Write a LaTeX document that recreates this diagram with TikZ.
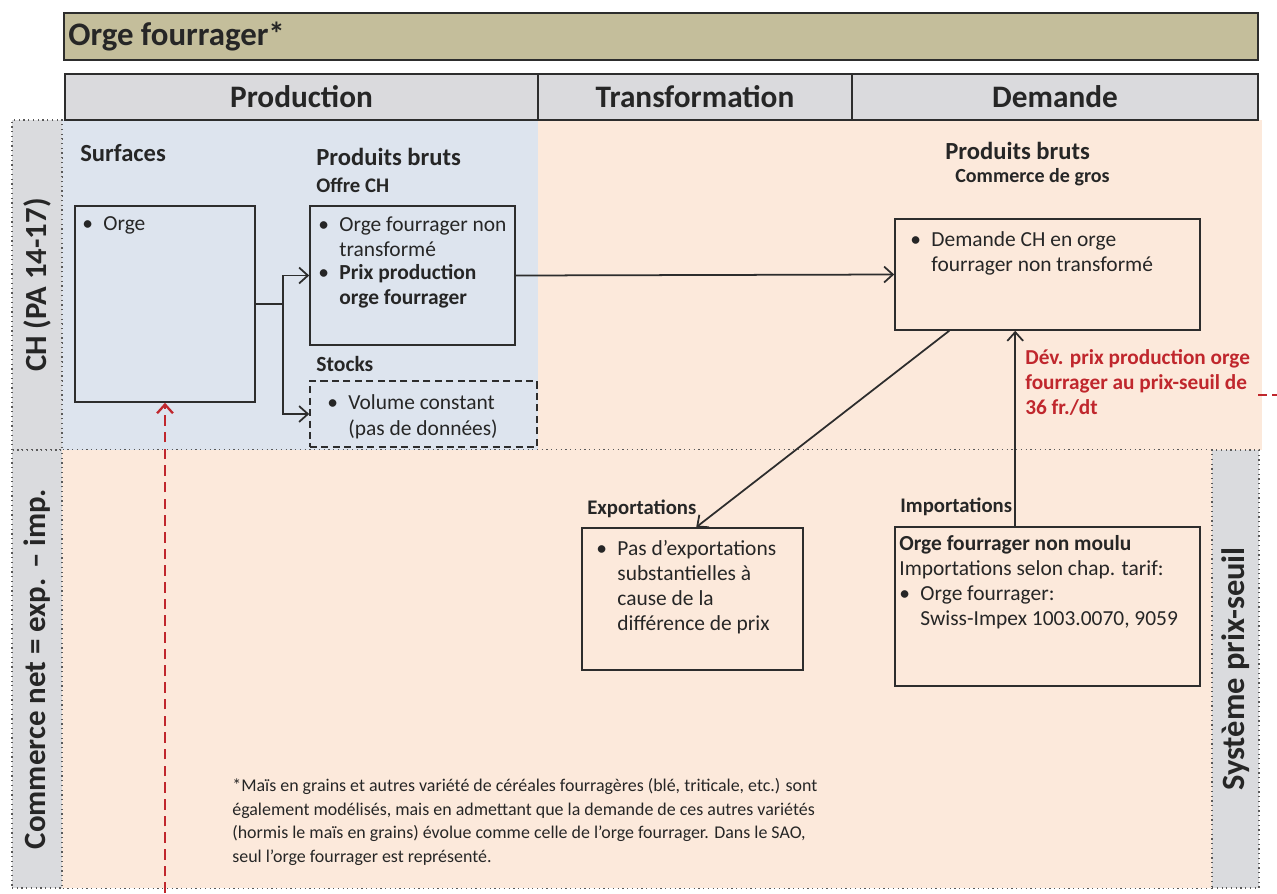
\documentclass[tikz,border=0pt]{standalone}
\usepackage{fontspec}
\setmainfont{Carlito}
\usetikzlibrary{arrows.meta,calc,fit}
\definecolor{titlefill}{RGB}{196,190,155}
\definecolor{headfill}{RGB}{218,218,221}
\definecolor{bluefill}{RGB}{221,228,238}
\definecolor{peachfill}{RGB}{252,233,219}
\definecolor{labfill}{RGB}{218,219,222}
\definecolor{redtxt}{RGB}{192,39,45}
\definecolor{txt}{RGB}{38,38,38}
\definecolor{edge}{RGB}{45,45,45}
\definecolor{dotc}{RGB}{90,90,90}
\newcommand\mybul{\makebox[12pt][l]{•}}
\newcommand\myind{\hspace*{12pt}}
\begin{document}
\begin{tikzpicture}[x=0.02cm,y=-0.02cm,
  box/.style={draw=edge, line width=0.9pt, inner sep=0pt},
  headbox/.style={draw=edge, line width=1.2pt, fill=headfill, inner sep=0pt},
  headtxt/.style={inner sep=0pt, text=txt, font=\bfseries\fontsize{17.8}{20}\selectfont},
  body/.style={anchor=north west, inner sep=0pt, align=left, text=txt, font=\fontsize{12.2}{14.2}\selectfont},
  sub/.style={anchor=west, inner sep=0pt, text=txt, font=\bfseries\fontsize{11.8}{14}\selectfont},
  big/.style={anchor=west, inner sep=0pt, text=txt, font=\bfseries\fontsize{14}{17}\selectfont},
  side/.style={rotate=90, inner sep=0pt, text=txt, font=\bfseries\fontsize{17.5}{20}\selectfont},
  arr/.style={-{Straight Barb[length=5pt,width=9pt]}, line width=1pt, draw=edge},
  redarr/.style={-{Straight Barb[length=5pt,width=9pt]}, line width=1.3pt, draw=redtxt, dash pattern=on 6pt off 3.5pt},
  dotb/.style={draw=dotc, dotted, line width=0.7pt}
]
\useasboundingbox (0,0) rectangle (1277,893);
% background regions
\fill[bluefill] (62,120) rectangle (538,450);
\fill[peachfill] (538,120) rectangle (1262,450);
\fill[peachfill] (62,450) rectangle (1212,888);
% side labels
\node[dotb, fill=labfill, inner sep=0pt, fit={(12,120)(62,450)}] (labch) {};
\node[dotb, fill=labfill, inner sep=0pt, fit={(12,450)(62,888)}] (labcom) {};
\node[dotb, fill=labfill, inner sep=0pt, fit={(1212,450)(1259,888)}] (labsys) {};
\draw[dotb] (labch.north east) -- (labch.south east);
\draw[dotb] (labcom.north east) -- (labsys.north west);
\draw[dotb] (labcom.south east) -- (labsys.south west);
\node[side] (tch) at (labch.center) {CH (PA 14-17)};
\node[side, font=\bfseries\fontsize{17.6}{20}\selectfont] (tcom) at (labcom.center) {Commerce net = exp. – imp.};
\node[side, font=\bfseries\fontsize{18.5}{20}\selectfont] (tsys) at (labsys.center) {Système prix-seuil};
% title
\node[draw=edge, line width=1.2pt, fill=titlefill, inner sep=0pt, fit={(64,13)(1258,60)}] (title) {};
\node[anchor=west, inner sep=0pt, text=txt, font=\bfseries\fontsize{18.7}{20}\selectfont] (ttitle) at (68,37) {Orge fourrager*};
% header
\node[headbox, fit={(65,74)(538,120)}] (hprod) {};
\node[headbox, fit={(538,74)(852,120)}] (htrans) {};
\node[headbox, fit={(852,74)(1258,120)}] (hdem) {};
\node[headtxt] (tprod) at (hprod.center) {Production};
\node[headtxt] (ttrans) at (htrans.center) {Transformation};
\node[headtxt] (tdem) at (hdem.center) {Demande};
% production column
\node[big] (lsurf) at (80,153) {Surfaces};
\node[box, fit={(75,206)(255,402)}] (orge) {};
\node[body] (torge) at (82,216) {\mybul Orge};
\node[big] (lpb1) at (316,157) {Produits bruts};
\node[sub] (loffre) at (316,185) {Offre CH};
\node[box, fit={(310,206)(515,345)}] (offre) {};
\node[body] (toffre) at (318,216) {\mybul Orge fourrager non\\ \myind transformé\\[-0.9pt] \mybul \textbf{Prix production}\\ \myind \textbf{orge fourrager}};
\node[sub, font=\bfseries\fontsize{12.3}{14}\selectfont] (lstocks) at (316,364) {Stocks};
\node[box, dashed, dash pattern=on 4pt off 2.5pt, fit={(310,381)(537,447)}] (stocks) {};
\node[body, font=\fontsize{12.2}{15}\selectfont] (tstocks) at (327,394) {\mybul Volume constant\\ \myind(pas de données)};
% demand
\node[big] (lpb2) at (945,151) {Produits bruts};
\node[sub, font=\bfseries\fontsize{11.4}{13}\selectfont] (lcg) at (955,177) {Commerce de gros};
\node[box, fit={(895,219)(1200,330)}] (demand) {};
\node[body] (tdemand) at (910,231) {\mybul Demande CH en orge\\ \myind fourrager non transformé};
\node[anchor=north west, inner sep=0pt, align=left, text=redtxt, font=\bfseries\fontsize{12.1}{14.2}\selectfont] (tred) at (1025,349) {Dév. prix production orge\\ fourrager au prix-seuil de\\ 36 fr./dt};
% trade
\node[sub] (lexp) at (587,509) {Exportations};
\node[box, fit={(582,528)(803,670)}] (exp) {};
\node[body] (texp) at (596,540) {\mybul Pas d’exportations\\ \myind substantielles à\\ \myind cause de la\\ \myind différence de prix};
\node[sub] (limp) at (900,507) {Importations};
\node[box, fit={(895,527)(1200,686)}] (imp) {};
\node[body] (timp) at (899,535) {\textbf{Orge fourrager non moulu}\\ Importations selon chap. tarif:\\ \mybul Orge fourrager:\\ \myind Swiss-Impex 1003.0070, 9059};
% footnote
\node[anchor=north west, inner sep=0pt, align=left, text=txt, font=\fontsize{10.2}{13.4}\selectfont] (foot) at (232,778) {*Maïs en grains et autres variété de céréales fourragères (blé, triticale, etc.) sont\\ également modélisés, mais en admettant que la demande de ces autres variétés\\ (hormis le maïs en grains) évolue comme celle de l’orge fourrager. Dans le SAO,\\ seul l’orge fourrager est représenté.};
% connectors
\coordinate (j) at (283,304);
\draw[line width=1pt, draw=edge] (orge.east) -- (j);
\draw[arr] (j) |- (offre.west);
\draw[arr] (j) |- (stocks.west);
\draw[arr] (offre.east) -- (demand.west);
\draw[arr] ($(demand.south west)+(55,0)$) -- ($(exp.north west)+(115,0)$);
\draw[arr] ($(imp.north west)+(121,0)$) -- ($(demand.south west)+(121,0)$);
\coordinate (rbot) at (165,893);
\draw[redarr] (rbot) -- (orge.south);
\coordinate (rr1) at (1258,395);
\coordinate (rr2) at (1277,395);
\draw[redtxt, line width=1.3pt, dash pattern=on 5pt off 3pt] (rr1) -- (rr2);
\end{tikzpicture}
\end{document}
